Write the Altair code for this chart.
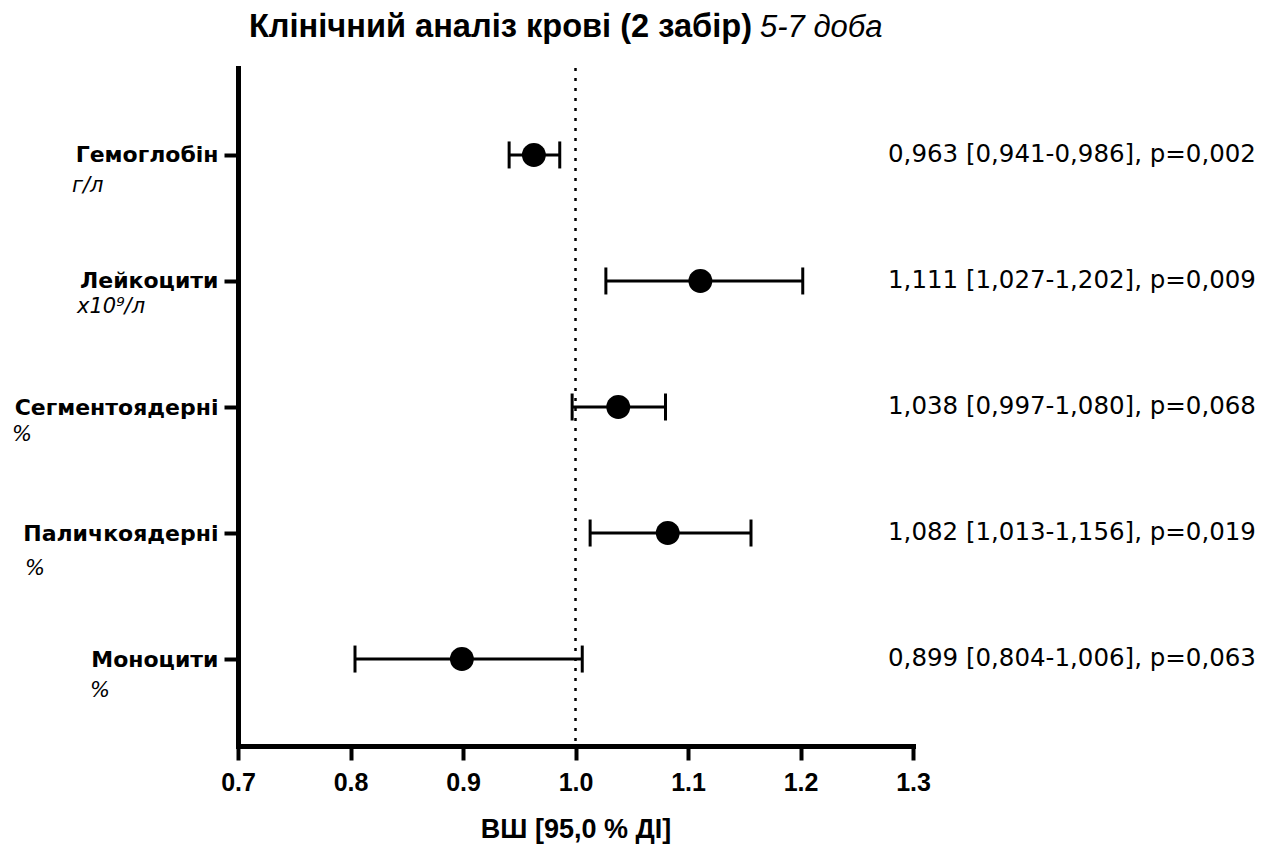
import altair as alt
import pandas as pd

# ---- data ----
names = ["Гемоглобін", "Лейкоцити", "Сегментоядерні", "Паличкоядерні", "Моноцити"]
units = ["г/л", "x10⁹/л", "%", "%", "%"]
odds = [0.963, 1.111, 1.038, 1.082, 0.899]
ci_low = [0.941, 1.027, 0.997, 1.013, 0.804]
ci_high = [0.986, 1.202, 1.080, 1.156, 1.006]
p_values = ["0,002", "0,009", "0,068", "0,019", "0,063"]
x_ticks = [0.7, 0.8, 0.9, 1.0, 1.1, 1.2, 1.3]
title_main = "Клінічний аналіз крові (2 забір)"
title_italic = "5-7 доба"
x_title = "ВШ [95,0 % ДІ]"

# ---- layout constants (pixels, relative to plot area) ----
unit_left = [-166, -161, -226, -213, -148]
unit_drop = [31, 26, 28, 36, 32]


def fmt(v):
    return f"{v:.3f}".replace(".", ",")


df = pd.DataFrame({
    "name": names,
    "unit": units,
    "odds": odds,
    "ci_low": ci_low,
    "ci_high": ci_high,
    "label": [f"{fmt(o)} [{fmt(l)}-{fmt(h)}], p={p}" for o, l, h, p in zip(odds, ci_low, ci_high, p_values)],
    "ux": unit_left,
    "udy": unit_drop,
})

W, H = 675, 678

xscale = alt.Scale(domain=[0.7, 1.3], nice=False, zero=False)
xaxis = alt.Axis(
    values=x_ticks, format=".1f", title=x_title,
    labelFont="Liberation Sans", labelFontWeight="bold", labelFontSize=25,
    labelPadding=10, tickSize=14, tickWidth=4, domainWidth=5, domainCap="square",
    titleFont="Liberation Sans", titleFontWeight="bold", titleFontSize=27,
    titleY=91, titleBaseline="alphabetic", labelColor="black", titleColor="black",
    labelFlush=False,
)
yenc = alt.Y(
    "name:N", sort=names,
    scale=alt.Scale(type="point", padding=0.69),
    axis=alt.Axis(
        title=None, labelFont="DejaVu Sans", labelFontWeight="bold", labelFontSize=22,
        labelPadding=6, tickSize=14, tickWidth=4, domainWidth=5, labelLimit=400,
        domainCap="square", labelColor="black",
    ),
)

base = alt.Chart(df)

ref = alt.Chart(pd.DataFrame({"v": [1.0]})).mark_rule(
    color="black", strokeWidth=2.5, strokeDash=[3, 7]
).encode(x=alt.X("v:Q", scale=xscale, axis=xaxis))

ci = base.mark_rule(color="black", strokeWidth=3).encode(
    x=alt.X("ci_low:Q", scale=xscale, axis=xaxis), x2="ci_high:Q", y=yenc
)
cap_lo = base.mark_tick(color="black", thickness=3, size=27, opacity=1).encode(
    x=alt.X("ci_low:Q", scale=xscale, axis=xaxis), y=yenc
)
cap_hi = base.mark_tick(color="black", thickness=3, size=27, opacity=1).encode(
    x=alt.X("ci_high:Q", scale=xscale, axis=xaxis), y=yenc
)
pts = base.mark_circle(color="black", size=570, opacity=1).encode(
    x=alt.X("odds:Q", scale=xscale, axis=xaxis), y=yenc
)
ann = base.mark_text(
    align="left", baseline="middle", font="DejaVu Sans", fontSize=24.5, color="black"
).encode(x=alt.value(650), y=yenc, text="label:N")

unit_txt = base.mark_text(
    align="left", baseline="middle", font="DejaVu Sans", fontStyle="italic",
    fontSize=21, color="black"
).encode(
    x=alt.X("ux:Q", scale=None),
    y=yenc,
    yOffset=alt.YOffset("udy:Q", scale=None),
    text="unit:N",
)

t1 = alt.Chart(pd.DataFrame({"t": [title_main]})).mark_text(
    align="right", baseline="alphabetic", font="Liberation Sans", fontWeight="bold",
    fontSize=32.6, color="black"
).encode(x=alt.value(514), y=alt.value(-31), text="t:N")
t2 = alt.Chart(pd.DataFrame({"t": [title_italic]})).mark_text(
    align="left", baseline="alphabetic", font="Liberation Sans", fontStyle="italic",
    fontSize=31, color="black"
).encode(x=alt.value(522), y=alt.value(-31), text="t:N")

chart = alt.layer(ref, ci, cap_lo, cap_hi, pts, ann, unit_txt, t1, t2).properties(
    width=W, height=H,
    padding={"left": 238, "top": 68, "right": 362, "bottom": 101},
    autosize=alt.AutoSizeParams(type="none"),
    background="white",
).configure_view(stroke=None).configure_axis(
    grid=False, domainColor="black", tickColor="black"
)

chart.save("out.html", embed_options={"renderer": "svg", "actions": False})
